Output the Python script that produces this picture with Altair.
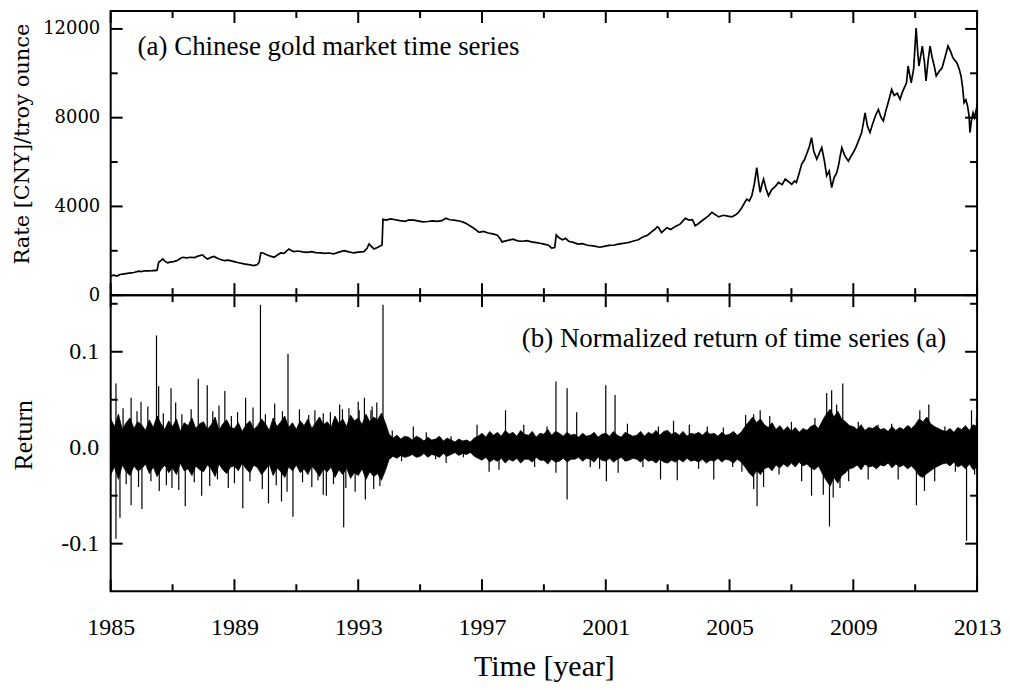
import altair as alt
import pandas as pd

# ---------------- data ----------------
price_year = [1985.00, 1985.10, 1985.20, 1985.30, 1985.44, 1985.60, 1985.75, 1985.90, 1985.98, 1986.10,
              1986.25, 1986.40, 1986.46, 1986.50, 1986.55, 1986.62, 1986.68, 1986.76, 1986.84, 1986.94,
              1987.03, 1987.15, 1987.25, 1987.32, 1987.45, 1987.59, 1987.70, 1987.82, 1987.97, 1988.05,
              1988.13, 1988.22, 1988.34, 1988.45, 1988.55, 1988.67, 1988.80, 1988.99, 1989.10, 1989.31,
              1989.45, 1989.55, 1989.64, 1989.74, 1989.80, 1989.85, 1989.92, 1990.06, 1990.16, 1990.28,
              1990.38, 1990.49, 1990.60, 1990.76, 1990.85, 1990.92, 1991.05, 1991.20, 1991.35, 1991.50,
              1991.62, 1991.78, 1991.92, 1992.05, 1992.21, 1992.35, 1992.54, 1992.70, 1992.86, 1993.00,
              1993.18, 1993.28, 1993.35, 1993.42, 1993.51, 1993.62, 1993.77, 1993.80, 1993.90, 1994.05,
              1994.20, 1994.35, 1994.50, 1994.65, 1994.80, 1994.95, 1995.10, 1995.25, 1995.40, 1995.55,
              1995.70, 1995.83, 1995.95, 1996.10, 1996.30, 1996.45, 1996.58, 1996.70, 1996.80, 1996.90,
              1997.05, 1997.20, 1997.35, 1997.50, 1997.58, 1997.65, 1997.80, 1998.00, 1998.15, 1998.30,
              1998.45, 1998.60, 1998.80, 1999.00, 1999.15, 1999.25, 1999.35, 1999.40, 1999.48, 1999.60,
              1999.70, 1999.80, 1999.95, 2000.10, 2000.25, 2000.40, 2000.60, 2000.80, 2000.95, 2001.10,
              2001.25, 2001.40, 2001.55, 2001.75, 2001.90, 2002.05, 2002.20, 2002.35, 2002.48, 2002.60,
              2002.66, 2002.71, 2002.80, 2002.87, 2002.98, 2003.10, 2003.25, 2003.40, 2003.57, 2003.70,
              2003.80, 2003.89, 2004.00, 2004.15, 2004.30, 2004.43, 2004.55, 2004.65, 2004.80, 2004.95,
              2005.08, 2005.20, 2005.29, 2005.40, 2005.50, 2005.56, 2005.64, 2005.72, 2005.80, 2005.88,
              2005.94, 2005.99, 2006.05, 2006.10, 2006.18, 2006.26, 2006.36, 2006.48, 2006.58, 2006.70,
              2006.80, 2006.92, 2007.01, 2007.10, 2007.16, 2007.25, 2007.33, 2007.42, 2007.49, 2007.58,
              2007.65, 2007.72, 2007.82, 2007.90, 2007.98, 2008.06, 2008.14, 2008.22, 2008.30, 2008.38,
              2008.46, 2008.52, 2008.58, 2008.63, 2008.72, 2008.84, 2008.92, 2009.00, 2009.08, 2009.18,
              2009.27, 2009.33, 2009.38, 2009.46, 2009.54, 2009.62, 2009.72, 2009.81, 2009.90, 2009.97,
              2010.05, 2010.15, 2010.24, 2010.32, 2010.42, 2010.51, 2010.60, 2010.72, 2010.77, 2010.87,
              2010.95, 2011.03, 2011.08, 2011.12, 2011.18, 2011.23, 2011.30, 2011.35, 2011.42, 2011.48,
              2011.55, 2011.62, 2011.68, 2011.78, 2011.87, 2011.96, 2012.06, 2012.14, 2012.22, 2012.35,
              2012.42, 2012.48, 2012.53, 2012.58, 2012.64, 2012.69, 2012.74, 2012.77, 2012.82, 2012.87,
              2012.92, 2013.00]
price_val = [870, 900, 860, 930, 957, 990, 1020, 1080, 1063, 1100,
             1090, 1120, 1109, 1130, 1480, 1560, 1633, 1520, 1453, 1500,
             1513, 1560, 1650, 1708, 1680, 1708, 1690, 1760, 1812, 1700,
             1633, 1690, 1744, 1660, 1610, 1558, 1580, 1513, 1470, 1408,
             1380, 1350, 1333, 1380, 1483, 1902, 1900, 1812, 1760, 1708,
             1800, 1902, 1880, 2082, 2000, 1962, 1990, 1950, 1932, 1960,
             1920, 1902, 1880, 1900, 1857, 1930, 2007, 1950, 1902, 1940,
             1962, 2100, 2307, 2200, 2082, 2150, 2262, 3415, 3380, 3440,
             3400, 3360, 3330, 3390, 3380, 3340, 3300, 3320, 3350, 3330,
             3360, 3470, 3400, 3380, 3330, 3260, 3150, 3050, 2950, 2830,
             2870, 2800, 2760, 2700, 2550, 2400, 2460, 2520, 2450, 2430,
             2460, 2400, 2360, 2300, 2250, 2120, 2150, 2720, 2600, 2500,
             2560, 2430, 2380, 2300, 2320, 2250, 2220, 2160, 2200, 2240,
             2250, 2300, 2330, 2380, 2440, 2500, 2620, 2700, 2850, 2980,
             3080, 3040, 2820, 2906, 3040, 2960, 3100, 3200, 3460, 3380,
             3400, 3130, 3230, 3400, 3550, 3730, 3620, 3530, 3600, 3560,
             3530, 3620, 3730, 3950, 4200, 4330, 4250, 4480, 5000, 5750,
             5100, 4630, 5000, 5230, 4800, 4480, 4750, 4900, 5080, 4980,
             5230, 5100, 5000, 5150, 5080, 5500, 5900, 6100, 6350, 6700,
             7100, 6500, 6125, 6400, 6650, 6100, 5380, 5600, 4850, 5300,
             5500, 5830, 6300, 6650, 6300, 6040, 6250, 6430, 6650, 7000,
             7330, 7800, 8220, 7600, 7330, 7700, 8100, 8370, 8000, 7850,
             8300, 8800, 9270, 9000, 9100, 8830, 9200, 9570, 10330, 9570,
             10200, 12040, 11000, 10330, 10800, 11230, 10500, 9660, 10600, 11230,
             10700, 10300, 9880, 10100, 10250, 10700, 11230, 11000, 10700, 10470,
             10200, 9880, 9400, 8670, 8800, 8540, 8100, 7330, 7900, 8220,
             8000, 8540]

# dense part of the return series: envelope every 1/8 year, in thousandths
band_hi_milli = [30, 22, 35, 19, 26, 31, 20, 27,   24, 18, 29, 21, 33, 25, 19, 28,
                 22, 30, 17, 26, 23, 31, 20, 25,   27, 19, 24, 32, 18, 25, 29, 21,
                 20, 26, 17, 24, 28, 19, 23, 30,   25, 18, 31, 22, 27, 33, 21, 26,
                 19, 28, 23, 30, 20, 26, 32, 24,   27, 21, 33, 25, 30, 22, 34, 28,
                 31, 24, 35, 27, 32, 29, 36, 26,   14, 10, 13, 9, 12, 11, 8, 12,
                 10, 7, 11, 8, 9, 12, 7, 10,       8, 6, 9, 7, 8, 6, 10, 12,
                 15, 11, 17, 13, 16, 12, 18, 14,   16, 12, 18, 14, 13, 17, 11, 15,
                 14, 19, 13, 17, 15, 12, 16, 13,   14, 11, 15, 12, 13, 16, 11, 14,
                 15, 12, 17, 13, 11, 16, 14, 12,   13, 17, 12, 16, 14, 18, 13, 17,
                 18, 14, 16, 13, 17, 12, 15, 14,   16, 13, 17, 14, 15, 12, 16, 13,
                 14, 17, 13, 16, 22, 27, 32, 26,   30, 24, 21, 26, 19, 23, 18, 22,
                 17, 21, 16, 20, 18, 22, 24, 20,   28, 35, 40, 32, 38, 30, 27, 23,
                 22, 19, 24, 18, 21, 20, 23, 19,   20, 17, 22, 18, 21, 19, 23, 20,
                 24, 30, 27, 32, 25, 22, 20, 18,   17, 20, 16, 21, 19, 23, 18, 24,
                 22]
band_lo_milli = [-28, -20, -33, -18, -25, -29, -19, -24,   -22, -17, -27, -20, -30, -23, -18, -26,
                 -21, -28, -16, -24, -22, -29, -19, -23,   -25, -18, -22, -30, -17, -23, -27, -20,
                 -19, -24, -16, -22, -26, -18, -21, -28,   -23, -17, -29, -21, -25, -31, -20, -24,
                 -18, -26, -22, -28, -19, -24, -30, -22,   -25, -20, -31, -23, -28, -21, -32, -26,
                 -29, -22, -33, -25, -30, -27, -34, -24,   -12, -9, -11, -8, -10, -9, -7, -10,
                 -9, -6, -10, -7, -8, -10, -6, -9,         -7, -5, -8, -6, -7, -5, -9, -11,
                 -13, -10, -15, -12, -14, -11, -16, -12,   -14, -11, -16, -12, -12, -15, -10, -13,
                 -13, -17, -12, -15, -14, -11, -15, -12,   -12, -10, -14, -11, -12, -15, -10, -13,
                 -14, -11, -15, -12, -10, -14, -13, -11,   -12, -15, -11, -14, -13, -16, -12, -15,
                 -16, -13, -15, -12, -15, -11, -14, -13,   -15, -12, -16, -13, -14, -11, -15, -12,
                 -13, -16, -12, -15, -20, -26, -30, -24,   -28, -22, -20, -24, -18, -21, -17, -20,
                 -16, -20, -15, -19, -17, -21, -23, -19,   -27, -34, -40, -31, -37, -29, -26, -22,
                 -21, -18, -23, -17, -20, -19, -22, -18,   -19, -16, -21, -17, -20, -18, -22, -19,
                 -23, -29, -31, -27, -24, -21, -19, -17,   -16, -19, -15, -20, -18, -22, -17, -23,
                 -20]
band_year = [1985 + k / 8 for k in range(len(band_hi_milli))]

# individual spikes of the return series
spike_year = [1985.17, 1985.17, 1985.30, 1985.40, 1985.50, 1985.66, 1985.66, 1985.85, 1985.90, 1985.98,
              1986.01, 1986.20, 1986.30, 1986.48, 1986.55, 1986.57, 1986.70, 1986.80, 1986.95, 1986.98,
              1987.10, 1987.20, 1987.30, 1987.41, 1987.60, 1987.70, 1987.83, 1987.94, 1988.12, 1988.20,
              1988.30, 1988.45, 1988.50, 1988.69, 1988.80, 1988.90, 1989.00, 1989.10, 1989.27, 1989.36,
              1989.50, 1989.60, 1989.84, 1989.90, 1990.00, 1990.10, 1990.30, 1990.35, 1990.52, 1990.55,
              1990.70, 1990.73, 1990.89, 1991.10, 1991.20, 1991.40, 1991.50, 1991.60, 1991.70, 1991.87,
              1991.87, 1991.97, 1992.10, 1992.20, 1992.40, 1992.49, 1992.53, 1992.60, 1992.70, 1992.90,
              1993.00, 1993.03, 1993.20, 1993.23, 1993.41, 1993.45, 1993.50, 1993.60, 1993.70, 1993.80,
              1994.10, 1994.40, 1994.78, 1995.20, 1995.50, 1995.84, 1996.00, 1996.40, 1996.84, 1997.23,
              1997.55, 1997.76, 1998.35, 1998.70, 1999.10, 1999.39, 1999.39, 1999.75, 1999.75, 2000.06,
              2000.50, 2000.80, 2001.00, 2001.02, 2001.30, 2001.40, 2001.70, 2002.20, 2002.70, 2002.77,
              2003.19, 2003.31, 2003.70, 2004.00, 2004.28, 2004.49, 2004.80, 2005.10, 2005.40, 2005.52,
              2005.78, 2005.78, 2005.89, 2005.99, 2006.10, 2006.30, 2006.60, 2007.00, 2007.33, 2007.65,
              2007.76, 2008.03, 2008.14, 2008.23, 2008.30, 2008.35, 2008.46, 2008.57, 2008.66, 2008.85,
              2009.16, 2009.48, 2009.80, 2010.24, 2010.45, 2010.80, 2011.04, 2011.15, 2011.30, 2011.44,
              2011.63, 2011.96, 2012.30, 2012.66, 2012.82, 2012.92, 2012.98]
spike_val = [0.067, -0.095, -0.073, 0.041, -0.038, 0.052, -0.060, 0.038, -0.041, 0.048,
             -0.064, 0.043, -0.035, 0.117, 0.064, -0.045, 0.036, -0.039, 0.062, -0.042,
             0.047, -0.044, 0.035, -0.061, 0.040, -0.036, 0.072, -0.050, 0.065, -0.040,
             0.038, -0.033, 0.044, 0.059, -0.042, 0.033, -0.037, 0.037, -0.063, 0.052,
             -0.035, 0.042, 0.149, -0.043, 0.035, -0.058, 0.046, -0.039, -0.056, 0.038,
             -0.046, 0.098, -0.072, 0.040, -0.036, 0.034, -0.041, 0.039, -0.034, 0.036,
             -0.049, -0.050, 0.037, -0.038, 0.045, 0.040, -0.083, -0.042, 0.041, -0.046,
             0.048, 0.039, 0.052, -0.054, 0.039, 0.043, -0.043, 0.047, -0.040, 0.149,
             0.018, -0.014, 0.022, 0.016, -0.012, -0.016, 0.012, -0.010, 0.024, -0.025,
             -0.023, 0.039, 0.024, -0.020, 0.022, 0.069, -0.026, 0.062, -0.054, 0.037,
             -0.020, -0.022, 0.065, -0.035, 0.055, -0.026, 0.025, -0.020, 0.022, -0.033,
             0.028, -0.034, 0.024, -0.022, 0.022, -0.033, 0.021, -0.020, -0.025, 0.034,
             0.035, -0.043, -0.061, 0.039, -0.041, 0.033, -0.028, 0.027, -0.035, -0.050,
             0.031, -0.049, 0.057, -0.082, 0.060, -0.052, 0.045, -0.042, 0.067, -0.035,
             0.027, -0.033, 0.024, 0.025, -0.033, 0.023, -0.060, 0.039, -0.045, 0.045,
             -0.035, 0.022, -0.025, -0.097, 0.039, -0.028, 0.031]

x_major = [1985, 1989, 1993, 1997, 2001, 2005, 2009, 2013]
x_minor = [1987, 1991, 1995, 1999, 2003, 2007, 2011]
top_major = [0, 4000, 8000, 12000]
top_minor = [2000, 6000, 10000]
bot_major = [-0.1, 0.0, 0.1]
bot_minor = [-0.05, 0.05, 0.15]

label_a = "(a) Chinese gold market time series"
label_b = "(b) Normalized return of time series (a)"

# ---------------- layout / style ----------------
W = 869
H1 = 285
H2 = 297
SERIF = "Liberation Serif"
SERIF_TOP = "DejaVu Serif"
MAJ, MIN = 12, 7

xscale = alt.Scale(domain=[1985, 2013], nice=False, zero=False)
ys_top = alt.Scale(domain=[0, 12808], nice=False, zero=False)
ys_bot = alt.Scale(domain=[-0.1496, 0.159], nice=False, zero=False)

ax_top_y = alt.Axis(values=top_major, format="d", ticks=False, tickSize=0, domain=False, grid=False,
                    labelFont=SERIF_TOP, labelFontSize=18, labelPadding=11, labelColor="black",
                    labelFlush=False,
                    titleFont=SERIF_TOP, titleFontSize=21, titleFontWeight="normal",
                    titleColor="black", titlePadding=10, titleY=133)
ax_bot_y = alt.Axis(values=bot_major, ticks=False, tickSize=0, domain=False, grid=False,
                    labelExpr="datum.value < 0 ? '-' + format(abs(datum.value), '.1f') : format(datum.value, '.1f')",
                    labelFont=SERIF, labelFontSize=24, labelPadding=12, labelColor="black",
                    labelFlush=False,
                    titleFont=SERIF, titleFontSize=26, titleFontWeight="normal",
                    titleColor="black", titlePadding=24, titleY=140)
ax_bot_x = alt.Axis(values=x_major, format="d", ticks=False, tickSize=0, domain=False, grid=False,
                    labelFont=SERIF, labelFontSize=24, labelPadding=24, labelColor="black",
                    labelFlush=False,
                    titleFont=SERIF, titleFontSize=30, titleFontWeight="normal",
                    titleColor="black", titlePadding=12)


def X(field, axis):
    return alt.X(field, type="quantitative", scale=xscale, axis=axis, title="Time [year]")


def tick_layers(ymajor, yminor, yscale, yaxis, ytitle, H, xaxis):
    out = []
    for vals, L in ((x_major, MAJ), (x_minor, MIN)):
        base = alt.Chart(pd.DataFrame({"year": vals})).mark_rule(color="black", strokeWidth=2)
        out.append(base.encode(x=X("year", xaxis), y=alt.value(0), y2=alt.value(L)))
        out.append(base.encode(x=X("year", xaxis), y=alt.value(H), y2=alt.value(H - L)))
    for vals, L in ((ymajor, MAJ), (yminor, MIN)):
        base = alt.Chart(pd.DataFrame({"val": vals})).mark_rule(color="black", strokeWidth=2)
        yenc = alt.Y("val", type="quantitative", scale=yscale, axis=yaxis, title=ytitle)
        out.append(base.encode(y=yenc, x=alt.value(0), x2=alt.value(L)))
        out.append(base.encode(y=yenc, x=alt.value(W), x2=alt.value(W - L)))
    return out


# ---------------- top panel ----------------
price_df = pd.DataFrame({"year": price_year, "val": price_val})
ytitle_top = "Rate [CNY]/troy ounce"
ytop = alt.Y("val", type="quantitative", scale=ys_top, axis=ax_top_y, title=ytitle_top)
price_line = alt.Chart(price_df).mark_line(color="black", strokeWidth=1.7).encode(
    x=X("year", None), y=ytop)
txt_a = alt.Chart(pd.DataFrame({"year": [1985.87], "val": [11190], "t": [label_a]})).mark_text(
    align="left", baseline="middle", font=SERIF, fontSize=27, color="black"
).encode(x=X("year", None), y=ytop, text="t")
top = alt.layer(price_line, txt_a,
                *tick_layers(top_major, top_minor, ys_top, ax_top_y, ytitle_top, H1, None)
                ).properties(width=W, height=H1)

# ---------------- bottom panel ----------------
band_df = pd.DataFrame({"year": band_year,
                        "val": [v / 1000 for v in band_hi_milli],
                        "lo": [v / 1000 for v in band_lo_milli]})
spike_df = pd.DataFrame({"year": spike_year, "val": spike_val})
yb = alt.Y("val", type="quantitative", scale=ys_bot, axis=ax_bot_y, title="Return")
band = alt.Chart(band_df).mark_area(color="black", stroke="black", strokeWidth=0.8).encode(
    x=X("year", ax_bot_x), y=yb, y2="lo:Q")
spikes = alt.Chart(spike_df).mark_rule(color="black", strokeWidth=1.2).encode(
    x=X("year", ax_bot_x), y=yb, y2=alt.datum(0))
txt_b = alt.Chart(pd.DataFrame({"year": [2012.0], "val": [0.113], "t": [label_b]})).mark_text(
    align="right", baseline="middle", font=SERIF, fontSize=27, color="black"
).encode(x=X("year", ax_bot_x), y=yb, text="t")
bottom = alt.layer(band, spikes, txt_b,
                   *tick_layers(bot_major, bot_minor, ys_bot, ax_bot_y, "Return", H2, ax_bot_x)
                   ).properties(width=W, height=H2)

chart = alt.vconcat(top, bottom, spacing=0, bounds="flush").properties(
    padding={"left": 2, "top": 0, "right": 0, "bottom": 0}
).configure_view(stroke="black", strokeWidth=2)

chart.save("out.html", embed_options={"renderer": "svg", "actions": False})
